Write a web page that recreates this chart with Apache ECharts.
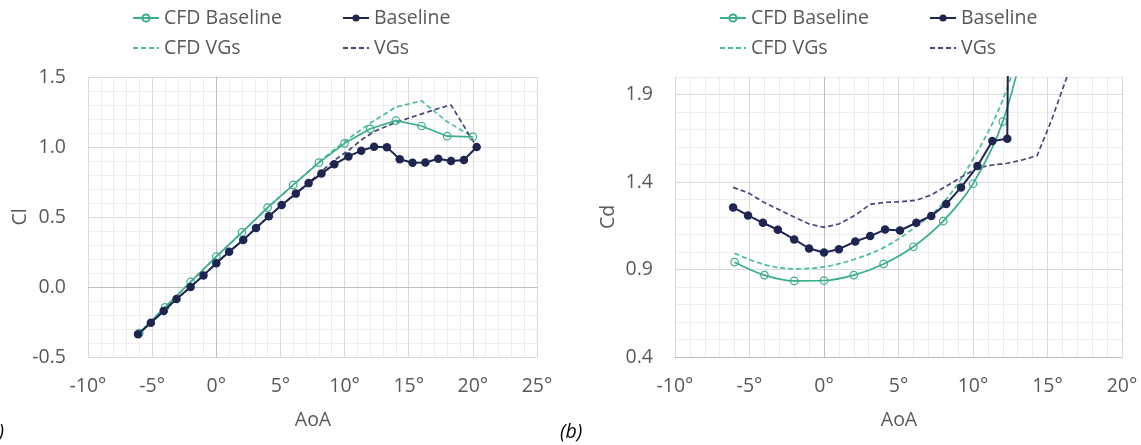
<!DOCTYPE html>
<html>
<head>
<meta charset="utf-8">
<script src="https://cdn.jsdelivr.net/npm/echarts@6/dist/echarts.min.js"></script>
<style>
  html, body { margin: 0; padding: 0; background: #ffffff; }
  #chart { width: 1141px; height: 445px; }
</style>
</head>
<body>
<div id="chart"></div>
<script>
// Angles of attack (degrees) of the wind-tunnel runs and of the CFD cases
const aoaExp = [-6.1, -5.1, -4.1, -3.1, -2.0, -1.0, 0.0, 1.0, 2.1, 3.1, 4.1, 5.1, 6.2, 7.2,
                8.2, 9.2, 10.3, 11.3, 12.3, 13.3, 14.3, 15.3, 16.3, 17.3, 18.3, 19.3, 20.3];
const aoaCfd = [-6, -4, -2, 0, 2, 4, 6, 8, 10, 12, 14, 16, 18, 20];

// Lift coefficient
const clBaseline = [-0.338, -0.255, -0.171, -0.086, 0.0, 0.083, 0.169, 0.252, 0.336, 0.421, 0.505, 0.586, 0.667, 0.742,
                    0.81, 0.876, 0.933, 0.974, 1.002, 0.999, 0.912, 0.888, 0.889, 0.916, 0.9, 0.907, 1.0];
const clVGs = [-0.338, -0.255, -0.171, -0.086, 0.0, 0.083, 0.169, 0.252, 0.336, 0.421, 0.505, 0.586, 0.667, 0.745,
               0.825, 0.905, 0.975, 1.05, 1.11, 1.15, 1.185, 1.215, 1.245, 1.275, 1.30, 1.15, 1.0];
const clCfdBaseline = [-0.33, -0.145, 0.036, 0.217, 0.39, 0.567, 0.729, 0.888, 1.026, 1.13, 1.188, 1.15, 1.077, 1.073];
const clCfdVGs = [-0.33, -0.145, 0.036, 0.217, 0.39, 0.567, 0.729, 0.893, 1.04, 1.17, 1.285, 1.33, 1.18, 1.073];

// Drag coefficient (runs continue above the top of the axis after stall)
const cdBaseline = [1.255, 1.209, 1.167, 1.127, 1.072, 1.02, 0.997, 1.016, 1.06, 1.091, 1.128, 1.123, 1.167, 1.206,
                    1.274, 1.369, 1.491, 1.634, 1.647, 12.0];
const cdVGs = [1.369, 1.339, 1.287, 1.245, 1.2, 1.16, 1.141, 1.16, 1.211, 1.272, 1.284, 1.287, 1.296, 1.326,
               1.375, 1.427, 1.481, 1.497, 1.507, 1.526, 1.55, 1.76, 2.0, 2.3];
const cdCfdBaseline = [0.942, 0.868, 0.835, 0.837, 0.868, 0.932, 1.03, 1.176, 1.39, 1.745, 2.4];
const cdCfdVGs = [0.992, 0.928, 0.904, 0.915, 0.957, 1.025, 1.135, 1.28, 1.53, 1.87, 2.4];

// Axis tick labels
const clXTicks = [-10, -5, 0, 5, 10, 15, 20, 25];
const clYTicks = [-0.5, 0.0, 0.5, 1.0, 1.5];
const cdXTicks = [-10, -5, 0, 5, 10, 15, 20];
const cdYTicks = [0.4, 0.9, 1.4, 1.9];
const cdYMax = 2.0;
const cdYStep = 0.1;

const FONT = "'Open Sans', 'Noto Sans', sans-serif";
const FS = 19.5;
const TEXT = '#595959';
const GRID_MAJOR = '#D9D9D9';
const GRID_MINOR = '#EDEDED';
const AXIS_LINE = '#BFBFBF';
const TEAL = '#3BAE8C';
const TEAL_DASH = '#48BE99';
const NAVY = '#1F2551';
const NAVY_DASH = '#44497A';

const pairs = (xs, ys) => ys.map((y, i) => [xs[i], y]);

function degreeAxis(gridIndex, ticks, showLine) {
  return {
    type: 'value', gridIndex,
    min: ticks[0], max: ticks[ticks.length - 1], interval: ticks[1] - ticks[0],
    axisLine: { show: showLine, onZero: false, lineStyle: { color: AXIS_LINE, width: 1 } },
    axisTick: { show: false },
    axisLabel: { color: TEXT, fontSize: FS, fontFamily: FONT, margin: 19, formatter: v => v + '°' },
    splitLine: { show: true, lineStyle: { color: GRID_MAJOR, width: 1 } },
    minorTick: { show: false, splitNumber: 5 },
    minorSplitLine: { show: true, lineStyle: { color: GRID_MINOR, width: 1 } }
  };
}

// Bare axis drawn through the origin of the other axis
function zeroLineAxis(gridIndex, ticks, position) {
  return {
    type: 'value', gridIndex, position,
    min: ticks[0], max: ticks[ticks.length - 1],
    axisLine: { show: true, onZero: true, lineStyle: { color: AXIS_LINE, width: 1 } },
    axisTick: { show: false }, axisLabel: { show: false },
    splitLine: { show: false }, minorSplitLine: { show: false }
  };
}

const majorEvery = Math.round((cdYTicks[1] - cdYTicks[0]) / cdYStep);
const cdGridColors = Array.from({ length: majorEvery }, (_, i) => i === 0 ? GRID_MAJOR : GRID_MINOR);

const xAxes = [
  degreeAxis(0, clXTicks, false),
  zeroLineAxis(0, clXTicks, 'top'),
  degreeAxis(1, cdXTicks, true)
];

const yAxes = [
  {
    type: 'value', gridIndex: 0,
    min: clYTicks[0], max: clYTicks[clYTicks.length - 1], interval: clYTicks[1] - clYTicks[0],
    axisLine: { show: false, onZero: false }, axisTick: { show: false },
    axisLabel: { color: TEXT, fontSize: FS, fontFamily: FONT, margin: 22, formatter: v => v.toFixed(1) },
    splitLine: { show: true, lineStyle: { color: GRID_MAJOR, width: 1 } },
    minorTick: { show: false, splitNumber: 5 },
    minorSplitLine: { show: true, lineStyle: { color: GRID_MINOR, width: 1 } }
  },
  zeroLineAxis(0, clYTicks, 'right'),
  {
    type: 'value', gridIndex: 1,
    min: cdYTicks[0], max: cdYMax, interval: cdYStep,
    axisLine: { show: false, onZero: false }, axisTick: { show: false },
    axisLabel: {
      color: TEXT, fontSize: FS, fontFamily: FONT, margin: 22,
      formatter: v => cdYTicks.some(t => Math.abs(t - v) < 1e-6) ? v.toFixed(1) : ''
    },
    splitLine: { show: true, lineStyle: { color: cdGridColors, width: 1 } }
  },
  zeroLineAxis(1, [cdYTicks[0], cdYMax], 'right')
];

function cfdLine(name, xi, yi, data, smooth) {
  return {
    name, type: 'line', xAxisIndex: xi, yAxisIndex: yi, data, smooth,
    symbol: 'circle', symbolSize: 7.5,
    itemStyle: { color: 'rgba(255,255,255,0)', borderColor: TEAL, borderWidth: 1.2 },
    lineStyle: { color: TEAL, width: 1.7 },
    z: 3
  };
}
function expLine(name, xi, yi, data) {
  return {
    name, type: 'line', xAxisIndex: xi, yAxisIndex: yi, data,
    symbol: 'circle', symbolSize: 8.5,
    itemStyle: { color: NAVY },
    lineStyle: { color: NAVY, width: 2 },
    z: 4
  };
}
function dashedLine(name, xi, yi, data, color, smooth) {
  return {
    name, type: 'line', xAxisIndex: xi, yAxisIndex: yi, data, smooth,
    symbol: 'none',
    // no markers: keep the legend icon a plain dashed stroke
    itemStyle: { color, opacity: 0 },
    lineStyle: { color, width: 1.7, type: [5, 3] },
    z: 2
  };
}

const series = [
  dashedLine('CFD VGs', 0, 0, pairs(aoaCfd, clCfdVGs), TEAL_DASH, false),
  dashedLine('VGs', 0, 0, pairs(aoaExp, clVGs), NAVY_DASH, false),
  cfdLine('CFD Baseline', 0, 0, pairs(aoaCfd, clCfdBaseline), false),
  expLine('Baseline', 0, 0, pairs(aoaExp, clBaseline)),
  dashedLine('CFD VGs', 2, 2, pairs(aoaCfd, cdCfdVGs), TEAL_DASH, 0.35),
  dashedLine('VGs', 2, 2, pairs(aoaExp, cdVGs), NAVY_DASH, false),
  cfdLine('CFD Baseline', 2, 2, pairs(aoaCfd, cdCfdBaseline), 0.35),
  expLine('Baseline', 2, 2, pairs(aoaExp, cdBaseline))
];

function legendColumn(left, names) {
  return {
    data: names, left, top: 8, orient: 'vertical', padding: 0,
    itemWidth: 26, itemHeight: 9, itemGap: 10, selectedMode: false,
    textStyle: { color: TEXT, fontSize: FS, fontFamily: FONT, lineHeight: 20 }
  };
}

function label(text, x, y, extra) {
  return Object.assign({
    type: 'text', x, y,
    style: { text, fill: TEXT, font: FS + 'px ' + FONT, align: 'center', verticalAlign: 'middle' }
  }, extra || {});
}

const chart = echarts.init(document.getElementById('chart'), null, { renderer: 'canvas' });
chart.setOption({
  animation: false,
  backgroundColor: '#ffffff',
  grid: [
    { left: 88, top: 77, width: 449, height: 280, outerBoundsMode: 'none' },
    { left: 675, top: 77, width: 447, height: 280, outerBoundsMode: 'none' }
  ],
  xAxis: xAxes,
  yAxis: yAxes,
  legend: [
    legendColumn(132, ['CFD Baseline', 'CFD VGs']),
    legendColumn(342, ['Baseline', 'VGs']),
    legendColumn(719, ['CFD Baseline', 'CFD VGs']),
    legendColumn(929, ['Baseline', 'VGs'])
  ],
  series,
  graphic: [
    label('Cl', 20, 217, { rotation: Math.PI / 2 }),
    label('Cd', 608, 217, { rotation: Math.PI / 2 }),
    label('AoA', 313, 420),
    label('AoA', 899, 420),
    { type: 'text', x: 4, y: 432,
      style: { text: '(a)', fill: '#000000', font: 'italic ' + FS + 'px ' + FONT, align: 'right', verticalAlign: 'middle' } },
    { type: 'text', x: 560, y: 432,
      style: { text: '(b)', fill: '#000000', font: 'italic ' + FS + 'px ' + FONT, align: 'left', verticalAlign: 'middle' } }
  ]
});
</script>
</body>
</html>
